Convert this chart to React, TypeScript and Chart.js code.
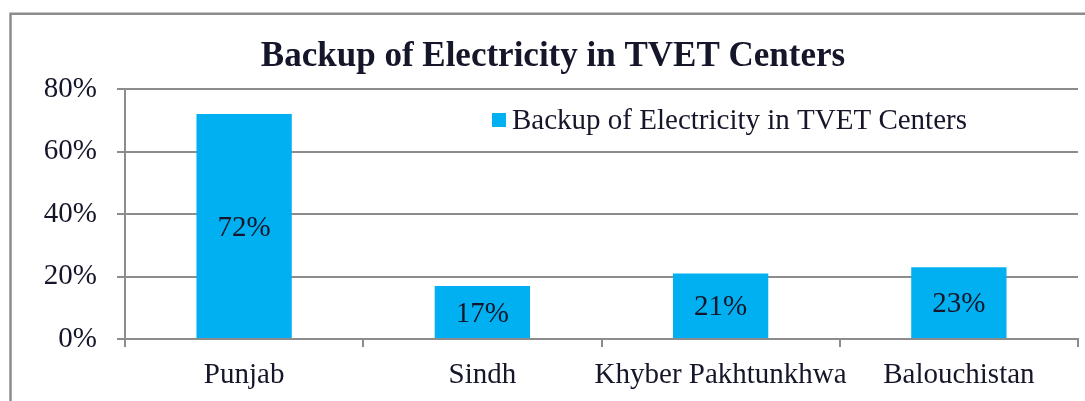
import React, { useEffect, useRef } from "react";
import { Chart, registerables } from "chart.js";

Chart.register(...registerables);

const categories = ["Punjab", "Sindh", "Khyber Pakhtunkhwa", "Balouchistan"];
const values = [72, 17, 21, 23];
const yTicks = [0, 20, 40, 60, 80];
const seriesLabel = "Backup of Electricity in TVET Centers";
const titleText = "Backup of Electricity in TVET Centers";

const FONT = '"Liberation Serif", "Times New Roman", serif';
const TEXT = "#16162a";
const GRID = "#8c8c8c";
const BAR = "#00B0F0";
const FS = 29;

const framePlugin = {
  id: "frame",
  beforeDraw(chart: any) {
    const ctx = chart.ctx;
    ctx.save();
    ctx.fillStyle = "#ffffff";
    ctx.fillRect(0, 0, chart.width, chart.height);
    ctx.strokeStyle = GRID;
    ctx.lineWidth = 2.5;
    ctx.beginPath();
    ctx.moveTo(10.5, chart.height + 2);
    ctx.lineTo(10.5, 13.75);
    ctx.lineTo(chart.width + 2, 13.75);
    ctx.stroke();
    ctx.restore();
  },
};

const labelPlugin = {
  id: "barLabels",
  afterDatasetsDraw(chart: any) {
    const ctx = chart.ctx;
    const meta = chart.getDatasetMeta(0);
    const data = chart.data.datasets[0].data as number[];
    ctx.save();
    ctx.font = `${FS}px ${FONT}`;
    ctx.fillStyle = TEXT;
    ctx.textAlign = "center";
    ctx.textBaseline = "middle";
    meta.data.forEach((bar: any, i: number) => {
      const mid = (bar.y + bar.base) / 2;
      ctx.fillText(`${data[i]}%`, bar.x, mid + 2);
    });
    ctx.restore();
  },
};

const legendPlugin = {
  id: "innerLegend",
  afterDraw(chart: any) {
    const ctx = chart.ctx;
    const ds = chart.data.datasets[0];
    const x = 492;
    const y = 120;
    ctx.save();
    ctx.fillStyle = ds.backgroundColor;
    ctx.fillRect(x, y - 7, 14, 14);
    ctx.font = `${FS}px ${FONT}`;
    ctx.fillStyle = TEXT;
    ctx.textAlign = "left";
    ctx.textBaseline = "middle";
    ctx.fillText(ds.label, x + 20, y + 1);
    ctx.restore();
  },
};

export default function App() {
  const ref = useRef<HTMLCanvasElement | null>(null);

  useEffect(() => {
    if (!ref.current) return;
    const chart = new Chart(ref.current, {
      type: "bar",
      data: {
        labels: categories,
        datasets: [
          {
            label: seriesLabel,
            data: values,
            backgroundColor: BAR,
            barPercentage: 0.4,
            categoryPercentage: 1,
          },
        ],
      },
      options: {
        animation: false,
        responsive: false,
        maintainAspectRatio: false,
        layout: { padding: { top: 36, right: 7, left: 28, bottom: 0 } },
        plugins: {
          legend: { display: false },
          tooltip: { enabled: false },
          title: {
            display: true,
            text: titleText,
            color: TEXT,
            font: { family: FONT, size: 35, weight: "bold" },
            padding: { top: 0, bottom: 11 },
          },
        },
        scales: {
          x: {
            offset: true,
            grid: {
              offset: true,
              drawOnChartArea: false,
              drawTicks: true,
              tickLength: 8,
              color: GRID,
              lineWidth: 2,
            },
            border: { display: true, color: GRID, width: 2 },
            ticks: {
              color: TEXT,
              font: { family: FONT, size: FS },
              padding: 11,
              maxRotation: 0,
              autoSkip: false,
            },
            afterFit(scale: any) {
              scale.height = 62;
            },
          },
          y: {
            min: 0,
            max: 80,
            afterBuildTicks(scale: any) {
              scale.ticks = yTicks.map((v) => ({ value: v }));
            },
            grid: {
              drawTicks: true,
              tickLength: 8,
              color: GRID,
              lineWidth: 2,
            },
            border: { display: true, color: GRID, width: 2 },
            ticks: {
              color: TEXT,
              font: { family: FONT, size: FS },
              padding: 20,
              callback: (v: any) => `${v}%`,
            },
            afterFit(scale: any) {
              scale.width = 97;
            },
          },
        },
      },
      plugins: [framePlugin, labelPlugin, legendPlugin],
    });
    return () => chart.destroy();
  }, []);

  return (
    <div style={{ position: "fixed", left: 0, top: 0, width: 1085, height: 401 }}>
      <canvas ref={ref} width={1085} height={401} style={{ width: 1085, height: 401, display: "block" }} />
    </div>
  );
}
